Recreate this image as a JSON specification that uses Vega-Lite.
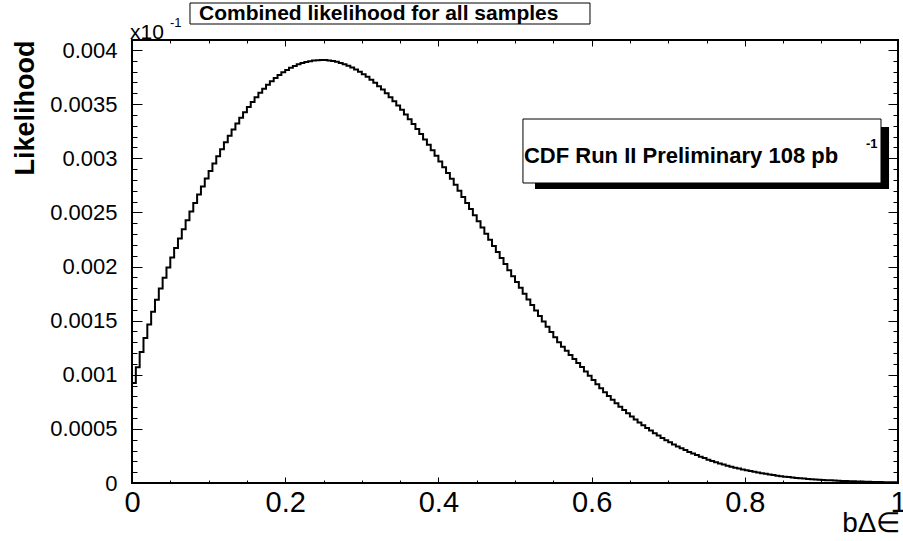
{
  "$schema": "https://vega.github.io/schema/vega-lite/v6.json",
  "width": 766,
  "height": 443,
  "autosize": {"type": "none"},
  "padding": {"left": 132, "top": 40, "right": 5, "bottom": 58},
  "background": "white",
  "config": {
    "view": {"stroke": "black", "strokeWidth": 2},
    "font": "Liberation Sans",
    "text": {"font": "Liberation Sans", "color": "black"}
  },
  "datasets": {
    "hist": [
      {"x":0,"y":0.000924},{"x":0.005,"y":0.00107},{"x":0.01,"y":0.00121},{"x":0.015,"y":0.00134},{"x":0.02,"y":0.001465},
      {"x":0.025,"y":0.001583},{"x":0.03,"y":0.001693},{"x":0.035,"y":0.001797},{"x":0.04,"y":0.001896},{"x":0.045,"y":0.001991},
      {"x":0.05,"y":0.002083},{"x":0.055,"y":0.002172},{"x":0.06,"y":0.002259},{"x":0.065,"y":0.002344},{"x":0.07,"y":0.002427},
      {"x":0.075,"y":0.002508},{"x":0.08,"y":0.002587},{"x":0.085,"y":0.002664},{"x":0.09,"y":0.002739},{"x":0.095,"y":0.002812},
      {"x":0.1,"y":0.002883},{"x":0.105,"y":0.002952},{"x":0.11,"y":0.003019},{"x":0.115,"y":0.003084},{"x":0.12,"y":0.003147},
      {"x":0.125,"y":0.003208},{"x":0.13,"y":0.003266},{"x":0.135,"y":0.003322},{"x":0.14,"y":0.003375},{"x":0.145,"y":0.003426},
      {"x":0.15,"y":0.003474},{"x":0.155,"y":0.00352},{"x":0.16,"y":0.003563},{"x":0.165,"y":0.003604},{"x":0.17,"y":0.003642},
      {"x":0.175,"y":0.003678},{"x":0.18,"y":0.003711},{"x":0.185,"y":0.003741},{"x":0.19,"y":0.003769},{"x":0.195,"y":0.003794},
      {"x":0.2,"y":0.003816},{"x":0.205,"y":0.003836},{"x":0.21,"y":0.003853},{"x":0.215,"y":0.003868},{"x":0.22,"y":0.00388},
      {"x":0.225,"y":0.00389},{"x":0.23,"y":0.003897},{"x":0.235,"y":0.003902},{"x":0.24,"y":0.003905},{"x":0.245,"y":0.003907},
      {"x":0.25,"y":0.003907},{"x":0.255,"y":0.003904},{"x":0.26,"y":0.003899},{"x":0.265,"y":0.003891},{"x":0.27,"y":0.003881},
      {"x":0.275,"y":0.003869},{"x":0.28,"y":0.003855},{"x":0.285,"y":0.003839},{"x":0.29,"y":0.00382},{"x":0.295,"y":0.003799},
      {"x":0.3,"y":0.003777},{"x":0.305,"y":0.003752},{"x":0.31,"y":0.003725},{"x":0.315,"y":0.003697},{"x":0.32,"y":0.003666},
      {"x":0.325,"y":0.003634},{"x":0.33,"y":0.0036},{"x":0.335,"y":0.003564},{"x":0.34,"y":0.003527},{"x":0.345,"y":0.003488},
      {"x":0.35,"y":0.003447},{"x":0.355,"y":0.003405},{"x":0.36,"y":0.003361},{"x":0.365,"y":0.003316},{"x":0.37,"y":0.00327},
      {"x":0.375,"y":0.003223},{"x":0.38,"y":0.003174},{"x":0.385,"y":0.003125},{"x":0.39,"y":0.003074},{"x":0.395,"y":0.003023},
      {"x":0.4,"y":0.002971},{"x":0.405,"y":0.002918},{"x":0.41,"y":0.002864},{"x":0.415,"y":0.00281},{"x":0.42,"y":0.002755},
      {"x":0.425,"y":0.002699},{"x":0.43,"y":0.002643},{"x":0.435,"y":0.002587},{"x":0.44,"y":0.002531},{"x":0.445,"y":0.002474},
      {"x":0.45,"y":0.002417},{"x":0.455,"y":0.00236},{"x":0.46,"y":0.002303},{"x":0.465,"y":0.002247},{"x":0.47,"y":0.00219},
      {"x":0.475,"y":0.002134},{"x":0.48,"y":0.002078},{"x":0.485,"y":0.002022},{"x":0.49,"y":0.001966},{"x":0.495,"y":0.001911},
      {"x":0.5,"y":0.001857},{"x":0.505,"y":0.001803},{"x":0.51,"y":0.001749},{"x":0.515,"y":0.001696},{"x":0.52,"y":0.001644},
      {"x":0.525,"y":0.001593},{"x":0.53,"y":0.001542},{"x":0.535,"y":0.001492},{"x":0.54,"y":0.001443},{"x":0.545,"y":0.001395},
      {"x":0.55,"y":0.001347},{"x":0.555,"y":0.0013},{"x":0.56,"y":0.001258},{"x":0.565,"y":0.001221},{"x":0.57,"y":0.001183},
      {"x":0.575,"y":0.001145},{"x":0.58,"y":0.001108},{"x":0.585,"y":0.001071},{"x":0.59,"y":0.00103},{"x":0.595,"y":0.00099},
      {"x":0.6,"y":0.000951},{"x":0.605,"y":0.000913},{"x":0.61,"y":0.000876},{"x":0.615,"y":0.000839},{"x":0.62,"y":0.000804},
      {"x":0.625,"y":0.00077},{"x":0.63,"y":0.000737},{"x":0.635,"y":0.000705},{"x":0.64,"y":0.000674},{"x":0.645,"y":0.000644},
      {"x":0.65,"y":0.000615},{"x":0.655,"y":0.000587},{"x":0.66,"y":0.000559},{"x":0.665,"y":0.000534},{"x":0.67,"y":0.000508},
      {"x":0.675,"y":0.000484},{"x":0.68,"y":0.00046},{"x":0.685,"y":0.000438},{"x":0.69,"y":0.000416},{"x":0.695,"y":0.000396},
      {"x":0.7,"y":0.000376},{"x":0.705,"y":0.000356},{"x":0.71,"y":0.000338},{"x":0.715,"y":0.00032},{"x":0.72,"y":0.000304},
      {"x":0.725,"y":0.000287},{"x":0.73,"y":0.000272},{"x":0.735,"y":0.000258},{"x":0.74,"y":0.000243},{"x":0.745,"y":0.00023},
      {"x":0.75,"y":0.000215},{"x":0.755,"y":0.000204},{"x":0.76,"y":0.000192},{"x":0.765,"y":0.00018},{"x":0.77,"y":0.00017},
      {"x":0.775,"y":0.00016},{"x":0.78,"y":0.00015},{"x":0.785,"y":0.0001415},{"x":0.79,"y":0.000133},{"x":0.795,"y":0.0001245},
      {"x":0.8,"y":0.000117},{"x":0.805,"y":0.00011},{"x":0.81,"y":0.000103},{"x":0.815,"y":0.0000966},{"x":0.82,"y":0.0000904},
      {"x":0.825,"y":0.0000847},{"x":0.83,"y":0.0000788},{"x":0.835,"y":0.0000732},{"x":0.84,"y":0.0000681},{"x":0.845,"y":0.0000633},
      {"x":0.85,"y":0.0000588},{"x":0.855,"y":0.0000545},{"x":0.86,"y":0.0000508},{"x":0.865,"y":0.0000473},{"x":0.87,"y":0.0000441},
      {"x":0.875,"y":0.000041},{"x":0.88,"y":0.0000381},{"x":0.885,"y":0.0000354},{"x":0.89,"y":0.0000329},{"x":0.895,"y":0.0000306},
      {"x":0.9,"y":0.0000283},{"x":0.905,"y":0.0000263},{"x":0.91,"y":0.0000243},{"x":0.915,"y":0.0000225},{"x":0.92,"y":0.0000209},
      {"x":0.925,"y":0.0000193},{"x":0.93,"y":0.0000179},{"x":0.935,"y":0.0000165},{"x":0.94,"y":0.0000152},{"x":0.945,"y":0.0000141},
      {"x":0.95,"y":0.000013},{"x":0.955,"y":0.000012},{"x":0.96,"y":0.000011},{"x":0.965,"y":0.0000102},{"x":0.97,"y":0.0000094},
      {"x":0.975,"y":0.0000086},{"x":0.98,"y":0.0000079},{"x":0.985,"y":0.0000073},{"x":0.99,"y":0.0000067},{"x":0.995,"y":0.0000061},
      {"x":1,"y":0.0000061}
    ],
    "one": [{}],
    "title": [{"t": "Combined likelihood for all samples"}],
    "expbase": [{"t": "x10"}],
    "exppow": [{"t": "-1"}],
    "legend": [{"t": "CDF Run II Preliminary 108 pb"}],
    "legpow": [{"t": "-1"}]
  },
  "layer": [
    {
      "data": {"name": "one"},
      "mark": {"type": "rect", "fill": "black"},
      "encoding": {
        "x": {"datum": 0.5261, "type": "quantitative", "scale": {"domain": [0, 1], "nice": false, "zero": false},
          "axis": {"orient": "top", "values": [0,0.05,0.1,0.15,0.2,0.25,0.3,0.35,0.4,0.45,0.5,0.55,0.6,0.65,0.7,0.75,0.8,0.85,0.9,0.95,1],
            "labels": false, "domain": false, "grid": false, "title": null, "tickColor": "black", "tickWidth": 1,
            "tickSize": {"condition": {"test": "abs(datum.value*5-round(datum.value*5))<1e-6", "value": -6}, "value": -3}}},
        "x2": {"datum": 0.9883},
        "y": {"datum": 0.0032887, "type": "quantitative", "scale": {"domain": [0, 0.0040924], "nice": false, "zero": true},
          "axis": {"orient": "right", "values": [0,0.0001,0.0002,0.0003,0.0004,0.0005,0.0006,0.0007,0.0008,0.0009,0.001,0.0011,0.0012,0.0013,0.0014,0.0015,0.0016,0.0017,0.0018,0.0019,0.002,0.0021,0.0022,0.0023,0.0024,0.0025,0.0026,0.0027,0.0028,0.0029,0.003,0.0031,0.0032,0.0033,0.0034,0.0035,0.0036,0.0037,0.0038,0.0039,0.004],
            "labels": false, "domain": false, "grid": false, "title": null, "tickColor": "black", "tickWidth": 1,
            "tickSize": {"condition": {"test": "abs(datum.value*2000-round(datum.value*2000))<1e-6", "value": -10}, "value": -5}}},
        "y2": {"datum": 0.0027159}
      }
    },
    {
      "data": {"name": "one"},
      "mark": {"type": "rect", "fill": "white", "stroke": "black", "strokeWidth": 1},
      "encoding": {
        "x": {"datum": 0.5104, "type": "quantitative", "axis": null},
        "x2": {"datum": 0.9778},
        "y": {"datum": 0.0033626, "type": "quantitative", "axis": null},
        "y2": {"datum": 0.0027714}
      }
    },
    {
      "data": {"name": "one"},
      "mark": {"type": "rect", "fill": "white", "stroke": "black", "strokeWidth": 1},
      "encoding": {
        "x": {"datum": 0.0757, "type": "quantitative", "axis": null},
        "x2": {"datum": 0.5979},
        "y": {"datum": 0.0044342, "type": "quantitative", "axis": null},
        "y2": {"datum": 0.0042402}
      }
    },
    {
      "data": {"name": "title"},
      "mark": {"type": "text", "align": "left", "baseline": "middle", "fontSize": 21, "fontWeight": "bold"},
      "encoding": {
        "x": {"datum": 0.0875, "type": "quantitative", "axis": null},
        "y": {"datum": 0.0043372, "type": "quantitative", "axis": null},
        "text": {"field": "t"}
      }
    },
    {
      "data": {"name": "expbase"},
      "mark": {"type": "text", "align": "left", "baseline": "alphabetic", "fontSize": 21},
      "encoding": {
        "x": {"datum": -0.0026, "type": "quantitative", "axis": null},
        "y": {"datum": 0.0041016, "type": "quantitative", "axis": null},
        "text": {"field": "t"}
      }
    },
    {
      "data": {"name": "exppow"},
      "mark": {"type": "text", "align": "left", "baseline": "alphabetic", "fontSize": 13},
      "encoding": {
        "x": {"datum": 0.0496, "type": "quantitative", "axis": null},
        "y": {"datum": 0.0042125, "type": "quantitative", "axis": null},
        "text": {"field": "t"}
      }
    },
    {
      "data": {"name": "legend"},
      "mark": {"type": "text", "align": "left", "baseline": "alphabetic", "fontSize": 22, "fontWeight": "bold"},
      "encoding": {
        "x": {"datum": 0.5117, "type": "quantitative", "axis": null},
        "y": {"datum": 0.0029561, "type": "quantitative", "axis": null},
        "text": {"field": "t"}
      }
    },
    {
      "data": {"name": "legpow"},
      "mark": {"type": "text", "align": "left", "baseline": "alphabetic", "fontSize": 13, "fontWeight": "bold"},
      "encoding": {
        "x": {"datum": 0.9582, "type": "quantitative", "axis": null},
        "y": {"datum": 0.0030947, "type": "quantitative", "axis": null},
        "text": {"field": "t"}
      }
    },
    {
      "data": {"name": "hist"},
      "mark": {"type": "line", "interpolate": "step-after", "color": "black", "strokeWidth": 2},
      "encoding": {
        "x": {"field": "x", "type": "quantitative",
          "axis": {"orient": "bottom", "values": [0,0.05,0.1,0.15,0.2,0.25,0.3,0.35,0.4,0.45,0.5,0.55,0.6,0.65,0.7,0.75,0.8,0.85,0.9,0.95,1],
            "format": "~g", "labelExpr": "abs(datum.value*5-round(datum.value*5))<1e-6 ? datum.label : ''",
            "labelFont": "Liberation Sans", "labelFontSize": 29, "labelColor": "black", "labelPadding": 11,
            "labelFlush": false, "labelOverlap": false, "labelBaseline": "top",
            "domain": false, "grid": false, "tickColor": "black", "tickWidth": 1,
            "tickSize": {"condition": {"test": "abs(datum.value*5-round(datum.value*5))<1e-6", "value": -6}, "value": -3},
            "title": "bΔ∈", "titleFont": "Liberation Sans", "titleFontSize": 28, "titleFontWeight": "normal", "titleColor": "black",
            "titleAnchor": "end", "titleAlign": "right", "titleBaseline": "alphabetic", "titleX": 768, "titleY": 48}},
        "y": {"field": "y", "type": "quantitative",
          "axis": {"orient": "left", "values": [0,0.0001,0.0002,0.0003,0.0004,0.0005,0.0006,0.0007,0.0008,0.0009,0.001,0.0011,0.0012,0.0013,0.0014,0.0015,0.0016,0.0017,0.0018,0.0019,0.002,0.0021,0.0022,0.0023,0.0024,0.0025,0.0026,0.0027,0.0028,0.0029,0.003,0.0031,0.0032,0.0033,0.0034,0.0035,0.0036,0.0037,0.0038,0.0039,0.004],
            "format": "~g", "labelExpr": "abs(datum.value*2000-round(datum.value*2000))<1e-6 ? datum.label : ''",
            "labelFont": "Liberation Sans", "labelFontSize": 22, "labelColor": "black", "labelPadding": 25,
            "labelFlush": false, "labelOverlap": false,
            "domain": false, "grid": false, "tickColor": "black", "tickWidth": 1,
            "tickSize": {"condition": {"test": "abs(datum.value*2000-round(datum.value*2000))<1e-6", "value": -10}, "value": -5},
            "title": "Likelihood", "titleFont": "Liberation Sans", "titleFontSize": 27, "titleFontWeight": "bold", "titleColor": "black",
            "titleAngle": -90, "titleAnchor": "end", "titleAlign": "right", "titleBaseline": "alphabetic", "titleX": -99, "titleY": 0}}
      }
    }
  ],
  "resolve": {"axis": {"x": "independent", "y": "independent"}}
}
